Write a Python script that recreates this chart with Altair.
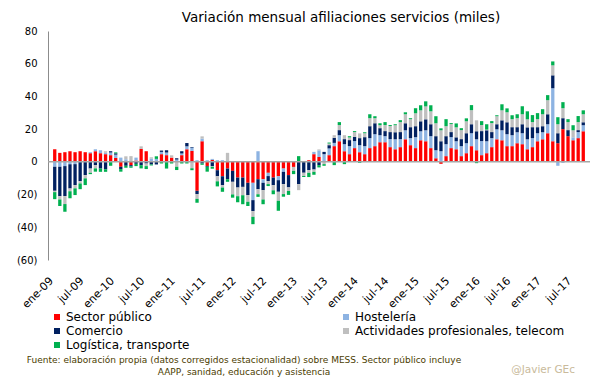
import altair as alt
import pandas as pd

# ---------------- data (miles de afiliados, variación mensual) ----------------
meses_abrev = ["ene", "feb", "mar", "abr", "may", "jun", "jul", "ago", "sep", "oct", "nov", "dic"]
categorias = [f"{meses_abrev[i % 12]}-{9 + i // 12:02d}" for i in range(105)]  # ene-09 .. sep-17

sector_publico = [
    7.7, 5.5, 5.9, 6.5, 5.9, 6.5, 5.9, 5.3, 6.5, 5.3, 4.7, 4.1,
    2.4, -3.0, 0.0, -2.0, 0.8, 7.9, 6.5, 0.0, 0.0, 4.7, 4.1, 2.6,
    0.0, 4.1, 7.7, 6.7, -17.7, 12.6, -2.5, 1.2, -5.1, -8.8, -4.1, -5.5,
    -9.6, -9.6, -12.8, -12.8, -10.6, -10.6, -6.7, -9.6, -8.8, -4.1, -8.1, -3.1,
    0.0, 0.0, 1.0, 4.7, 3.0, 0.0, 4.1, 9.6, 12.6, 6.5, 4.7, 8.4,
    5.9, 4.7, 8.4, 9.6, 12.0, 12.0, 9.0, 7.7, 9.0, 13.8, 10.2, 8.4,
    13.2, 12.6, 8.4, 2.2, -1.2, 3.5, 8.4, 7.7, 3.5, 5.3, 9.6, 7.1,
    4.1, 5.3, 9.0, 13.8, 13.2, 9.6, 9.6, 11.4, 10.8, 7.7, 9.0, 12.6,
    13.8, 17.5, 12.6, 11.4, 20.0, 15.7, 13.2, 14.5, 18.7,
]
hosteleria = [
    -3.0, -3.0, -2.6, -1.4, -1.4, 0.0, 0.0, 0.6, 1.2, 1.8, 0.8, 1.6,
    2.0, 2.6, 1.6, 0.0, 1.8, 0.0, 0.0, 2.0, 1.8, 1.4, 1.6, 0.0,
    1.4, 1.0, 1.8, 2.0, 1.0, 1.6, 1.0, 0.6, 1.0, 1.0, 0.0, 0.0,
    0.0, 0.0, 0.0, -10.6, 6.5, -2.2, -2.0, 0.0, -2.4, -2.0, 0.0, 0.0,
    0.0, 0.0, 0.0, 1.4, 4.0, 4.7, 4.1, 2.0, 3.7, 4.3, 4.9, 4.3,
    4.3, 4.9, 6.1, 7.3, 4.3, 3.7, 4.9, 6.1, 4.9, 5.5, 4.3, 6.7,
    5.5, 6.7, 7.3, 4.9, 6.5, 7.3, 6.7, 4.9, 6.1, 6.1, 7.9, 6.7,
    8.6, 7.3, 5.5, 6.1, 6.1, 7.3, 6.7, 6.7, 6.7, 6.1, 5.5, 4.9,
    4.3, 5.5, 32.4, -2.4, -0.6, 0.0, 1.8, 3.7, 3.7,
]
comercio = [
    -14.7, -18.0, -18.3, -14.9, -12.8, -11.8, -8.1, -4.1, -2.0, -4.1, -4.5, 0.8,
    0.8, -1.4, -2.4, -0.8, -1.2, -2.0, -1.0, -1.6, -1.6, 0.8, 1.4, 0.0,
    0.8, 1.4, 2.0, 0.4, -2.0, -1.0, -0.5, -2.6, -3.7, -5.5, -6.5, -6.7,
    -6.1, -5.7, -7.5, -6.7, -6.1, -4.5, -3.1, -4.7, -7.1, -7.5, -7.5, 0.0,
    -13.6, -6.7, -5.1, -4.7, -2.0, 1.4, 2.0, 3.1, 3.1, 3.1, 3.7, 2.6,
    4.3, 5.5, 7.3, 6.7, 4.3, 3.1, 4.3, 4.3, 4.3, 4.3, 6.7, 6.7,
    6.1, 6.7, 7.3, 8.6, 6.1, 4.9, 3.1, 2.4, 4.3, 6.1, 5.5, 4.9,
    6.1, 6.7, 3.7, 3.1, 6.1, 7.3, 4.9, 3.1, 5.5, 7.3, 6.7, 3.7,
    3.7, 6.1, 7.9, 6.1, 6.7, 3.7, 0.0, 1.2, 1.8,
]
actividades = [
    -0.8, -2.0, -4.9, -1.6, -2.0, -1.4, -2.0, -2.6, -2.0, 0.0, 1.0, 0.0,
    0.0, 0.0, 1.8, 3.5, 0.0, 1.6, -1.6, 0.8, 0.0, 0.0, 0.0, 1.4,
    -3.0, 0.0, 0.0, -3.9, -2.9, 1.4, 0.0, -0.4, -3.1, -1.4, 5.5, -7.7,
    -5.3, -5.1, -4.1, -3.5, -3.1, -5.7, -1.8, -3.1, -5.5, -6.1, -2.2, -2.4,
    -3.7, -2.0, -1.6, -1.4, 0.6, -1.4, 1.0, 1.6, 3.1, 2.4, 1.6, 2.9,
    2.9, 2.4, 4.9, 3.1, 1.8, 3.7, 3.7, 4.3, 6.1, 5.5, 4.9, 7.9,
    6.7, 7.9, 7.9, 7.9, 6.7, 6.1, 4.9, 6.1, 5.5, 7.3, 8.6, 6.7,
    3.7, 0.4, 5.5, 4.9, 6.1, 6.1, 4.9, 5.5, 6.1, 4.9, 3.1, 4.9,
    7.3, 8.6, 6.1, 5.5, 6.1, 4.9, 4.3, 4.9, 4.9,
]
logistica = [
    -4.3, -4.0, -4.7, -4.3, -4.1, -3.5, -4.1, -0.8, -2.0, -2.0, -1.6, -2.4,
    0.6, -1.6, -1.2, -0.8, -1.4, -2.0, -1.8, -0.6, 1.6, -1.0, -4.1, -1.0,
    -2.0, -1.0, -1.0, -1.2, -2.4, -0.8, -3.0, -1.2, -3.1, -2.6, -1.6, -2.0,
    -3.7, -5.5, -2.6, -4.5, -1.6, -2.9, -1.2, -2.4, -6.1, -1.6, -2.4, -2.0,
    3.5, -0.6, -2.6, -1.8, -1.4, -1.0, 0.6, -2.0, 1.8, -1.4, 0.8, 0.6,
    -0.6, 0.6, 2.4, 1.2, 1.2, 1.8, 0.6, 0.6, 1.2, 1.2, 0.6, 3.1,
    3.1, 3.1, 3.7, 4.3, 1.2, 4.3, 0.6, 2.4, 1.2, 1.8, 3.1, -0.8,
    2.4, 3.3, 1.2, 0.6, 3.7, 2.4, 2.4, 2.4, 4.9, 4.9, 4.3, 3.7,
    3.1, 3.1, 2.4, 4.3, 3.7, 1.8, 3.1, 3.7, 2.4,
]

# stacking order (from zero outwards)
series_nombres = [
    "Sector público",
    "Hostelería",
    "Comercio",
    "Actividades profesionales, telecom",
    "Logística, transporte",
]

# legend order (the legend grid is filled column by column)
leyenda_orden = [
    "Sector público",
    "Comercio",
    "Logística, transporte",
    "Hostelería",
    "Actividades profesionales, telecom",
]
leyenda_colores = ["#FF0000", "#002060", "#00B050", "#8DB3E2", "#BFBFBF"]

y_ticks = [-60, -40, -20, 0, 20, 40, 60, 80]
x_ticks = [c for c in categorias if c.startswith(("ene", "jul"))]

titulo = "Variación mensual afiliaciones  servicios (miles)"
nota_1 = ["Fuente: elaboración propia  (datos corregidos estacionalidad) sobre MESS. Sector público  incluye"]
nota_2 = ["AAPP, sanidad, educación  y asistencia"]
firma = ["@Javier GEc"]

# ---------------- table ----------------
rows = []
for k, (nombre, vals) in enumerate(
    zip(series_nombres, [sector_publico, hosteleria, comercio, actividades, logistica])
):
    for i, v in enumerate(vals):
        rows.append({"mes": categorias[i], "serie": nombre, "valor": v, "orden": k})
df = pd.DataFrame(rows)

FONT = "DejaVu Sans"

y_axis = alt.Axis(
    values=y_ticks,
    title=None,
    grid=False,
    ticks=False,
    tickSize=0,
    labelPadding=11,
    labelOverlap=False,
    labelBound=False,
    domainColor="#8C8C8C",
    labelFont=FONT,
    labelFontSize=10,
    labelColor="#000000",
    labelExpr="datum.value < 0 ? '(' + (-datum.value) + ')' : '' + datum.value",
)
y_scale = alt.Scale(domain=[-60, 80], nice=False)

bars = alt.Chart(df).mark_bar().encode(
    x=alt.X(
        "mes:N",
        sort=categorias,
        scale=alt.Scale(paddingInner=0.35, paddingOuter=1.0),
        axis=alt.Axis(
            values=x_ticks,
            title=None,
            labelAngle=-45,
            labelAlign="right",
            labelBaseline="middle",
            domain=False,
            ticks=False,
            tickSize=0,
            labelPadding=19,
            labelOffset=-3,
            labelFont=FONT,
            labelFontSize=11,
            labelColor="#000000",
            labelOverlap=False,
        ),
    ),
    y=alt.Y("valor:Q", stack="zero", scale=y_scale, axis=y_axis),
    color=alt.Color(
        "serie:N",
        scale=alt.Scale(domain=leyenda_orden, range=leyenda_colores),
        legend=alt.Legend(
            title=None,
            orient="none",
            legendX=3,
            legendY=280,
            columns=2,
            columnPadding=150,
            rowPadding=2,
            symbolType="square",
            symbolSize=36,
            symbolStrokeWidth=0,
            labelOffset=3,
            labelFont=FONT,
            labelFontSize=12,
            labelColor="#000000",
            labelLimit=400,
        ),
    ),
    order=alt.Order("orden:Q", sort="ascending"),
)

zero_rule = alt.Chart(pd.DataFrame({"valor": [0]})).mark_rule(
    color="#A6A6A6", strokeWidth=1.5
).encode(y=alt.Y("valor:Q", scale=y_scale, axis=y_axis))

t1 = alt.Chart(pd.DataFrame({"t": nota_1})).mark_text(
    font=FONT, fontSize=9, color="#4A3C00", align="center", baseline="middle"
).encode(text="t:N", x=alt.value(196), y=alt.value(329))

t2 = alt.Chart(pd.DataFrame({"t": nota_2})).mark_text(
    font=FONT, fontSize=9, color="#4A3C00", align="center", baseline="middle"
).encode(text="t:N", x=alt.value(196), y=alt.value(341))

t3 = alt.Chart(pd.DataFrame({"t": firma})).mark_text(
    font=FONT, fontSize=10.5, color="#C9BA9B", align="right", baseline="middle"
).encode(text="t:N", x=alt.value(527), y=alt.value(339))

chart = (
    alt.layer(bars, zero_rule, t1, t2, t3)
    .properties(
        width=542,
        height=229,
        padding={"left": 40, "top": 23, "right": 5, "bottom": 120},
        autosize=alt.AutoSizeParams(type="none"),
        title=alt.TitleParams(
            titulo,
            font=FONT,
            fontSize=13.5,
            fontWeight="normal",
            color="#000000",
            anchor="middle",
            dx=22,
            offset=2,
        ),
    )
    .configure_view(stroke=None)
    .configure_axisY(labelOverlap=False)
)

chart.save("out.html", embed_options={"renderer": "svg", "actions": False})
